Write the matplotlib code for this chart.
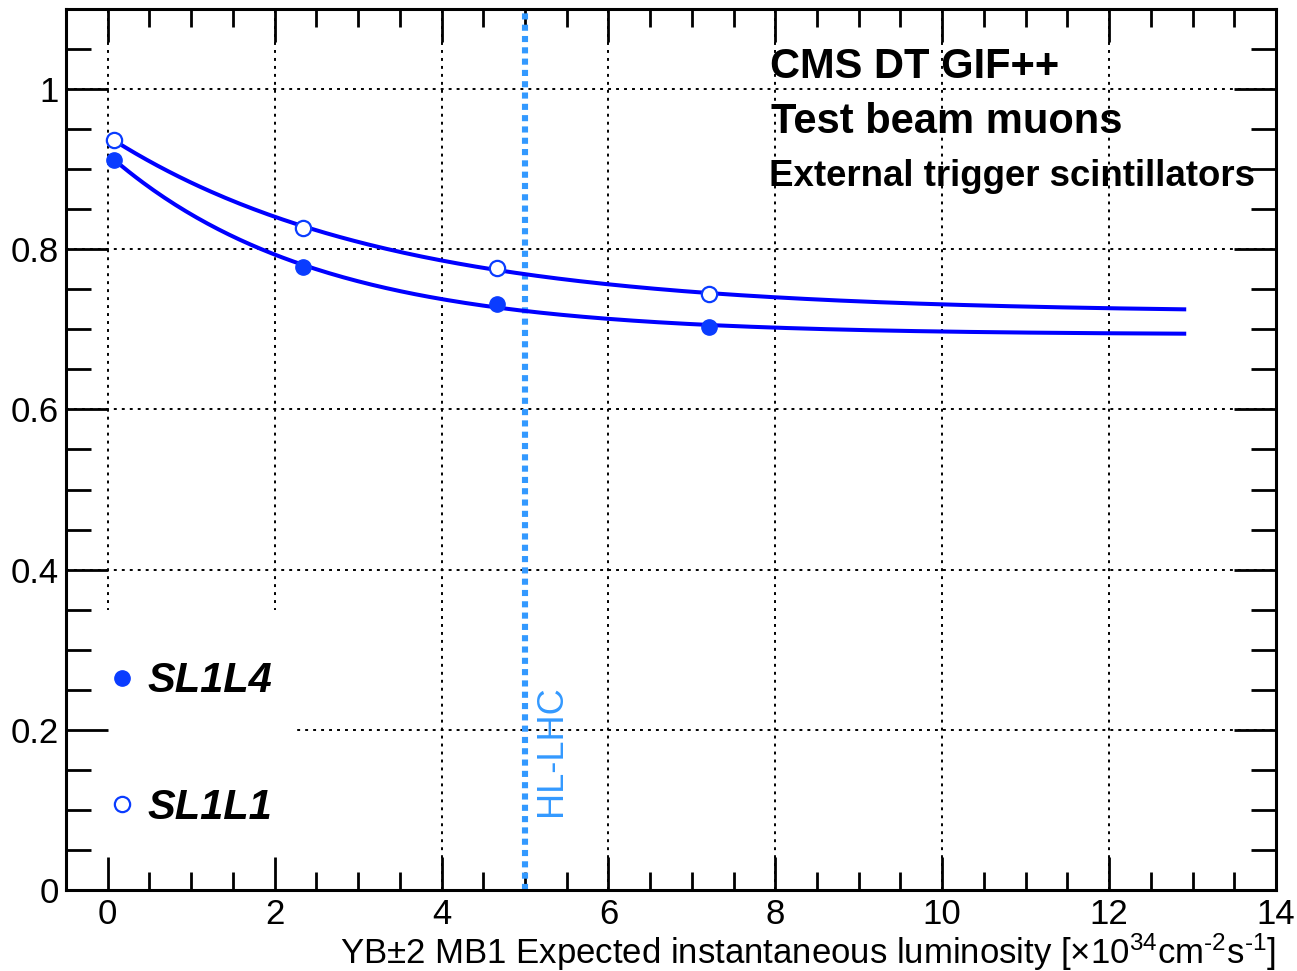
import numpy as np
import matplotlib.pyplot as plt
from matplotlib.patches import Rectangle
from matplotlib.lines import Line2D
from matplotlib.ticker import MultipleLocator, FuncFormatter

plt.rcParams['font.family'] = ['Liberation Sans', 'DejaVu Sans']
plt.rcParams['mathtext.fontset'] = 'custom'
plt.rcParams['mathtext.rm'] = 'Liberation Sans'
plt.rcParams['mathtext.it'] = 'Liberation Sans:italic'

# measured points (x = expected luminosity, y = efficiency)
lumi = [0.08, 2.34, 4.66, 7.20]
eff_sl1l4 = [0.912, 0.778, 0.732, 0.703]
eff_sl1l1 = [0.936, 0.827, 0.777, 0.744]
labels = ['SL1L4', 'SL1L1']
fit_end = 12.9
hl_lhc = 5.0

LINE_BLUE = '#0000ff'
MARK_BLUE = '#0a3cff'
HL_BLUE = '#3399ff'


def expo_fit(x, y):
    # y = p0 + p1*exp(-c*x), scan c, linear lstsq for p0,p1
    x = np.asarray(x); y = np.asarray(y)
    best = None
    for c in np.linspace(0.05, 2.0, 2000):
        A = np.column_stack([np.ones_like(x), np.exp(-c * x)])
        p, res, _, _ = np.linalg.lstsq(A, y, rcond=None)
        r = np.sum((A @ p - y) ** 2)
        if best is None or r < best[0]:
            best = (r, p[0], p[1], c)
    return best[1:]


fig = plt.figure(figsize=(12.97, 9.71), dpi=100)
ax = fig.add_axes([66/1297, 1-890/971, (1276-66)/1297, (890-9)/971])
ax.set_xlim(-0.5, 14)
ax.set_ylim(0, 1.1)

ax.xaxis.set_major_locator(MultipleLocator(2))
ax.xaxis.set_minor_locator(MultipleLocator(0.5))
ax.yaxis.set_major_locator(MultipleLocator(0.2))
ax.yaxis.set_minor_locator(MultipleLocator(0.05))
ax.yaxis.set_major_formatter(FuncFormatter(lambda v, _: '%g' % round(v, 3)))
ax.tick_params(which='both', direction='in', top=True, right=True, width=2, labelsize=25)
ax.tick_params(which='major', length=24)
ax.tick_params(which='minor', length=13)
ax.tick_params(axis='y', which='major', length=30, pad=5)
ax.tick_params(axis='y', which='minor', length=18)
ax.tick_params(axis='x', pad=6)
for s in ax.spines.values():
    s.set_linewidth(2.2)

# grid by hand so the legend box can hide it but not the ticks
for xv in np.arange(0, 14.1, 2):
    ax.axvline(xv, color='black', lw=1.4, dashes=(1.5, 2.6), zorder=0.8)
for yv in np.arange(0.2, 1.05, 0.2):
    ax.axhline(yv, color='black', lw=1.4, dashes=(1.5, 2.6), zorder=0.8)

# white legend area
ax.add_patch(Rectangle((0, 0), (297-66)/(1276-66), (890-610)/(890-9),
                       transform=ax.transAxes, facecolor='white', edgecolor='none', zorder=0.9))

# fits
xs = np.linspace(lumi[0], fit_end, 300)
for ys in (eff_sl1l4, eff_sl1l1):
    p0, p1, c = expo_fit(lumi, ys)
    ax.plot(xs, p0 + p1*np.exp(-c*xs), color=LINE_BLUE, lw=2.9, zorder=3)

ax.plot(lumi, eff_sl1l4, 'o', ms=11, color=MARK_BLUE, zorder=4)
ax.plot(lumi, eff_sl1l1, 'o', ms=11, mfc='white', mec=MARK_BLUE, mew=1.6, zorder=4)

# HL-LHC line
ax.axvline(hl_lhc, color=HL_BLUE, lw=4.4, dashes=(1.0, 0.85), zorder=2)
ax.text(hl_lhc + 0.32, 0.092, 'HL-LHC', rotation=90, color=HL_BLUE, fontsize=26,
        ha='center', va='bottom')

# legend
handles = [Line2D([], [], ls='none', marker='o', ms=11, color=MARK_BLUE),
           Line2D([], [], ls='none', marker='o', ms=11, mfc='white', mec=MARK_BLUE, mew=1.6)]
ax.legend(handles, labels, loc='lower left', bbox_to_anchor=(-0.002, 0.028), frameon=False,
          prop={'weight': 'bold', 'style': 'italic', 'size': 30}, handlelength=1.0,
          handletextpad=0.11, labelspacing=2.08, numpoints=1)

# labels
fig.text(770/1297, 1-67/971, 'CMS DT GIF++', fontsize=30, weight='bold', va='center')
fig.text(771/1297, 1-122/971, 'Test beam muons', fontsize=30, weight='bold', va='center')
fig.text(769/1297, 1-176/971, 'External trigger scintillators', fontsize=26.4, weight='bold', va='center')

fig.text(1276/1297, 1-952/971,
         r'YB±2 MB1 Expected instantaneous luminosity [×10$^{34}$cm$^{\text{-}2}$s$^{\text{-}1}$]',
         fontsize=25, ha='right', va='center')

fig.savefig('out.png', dpi=100)
